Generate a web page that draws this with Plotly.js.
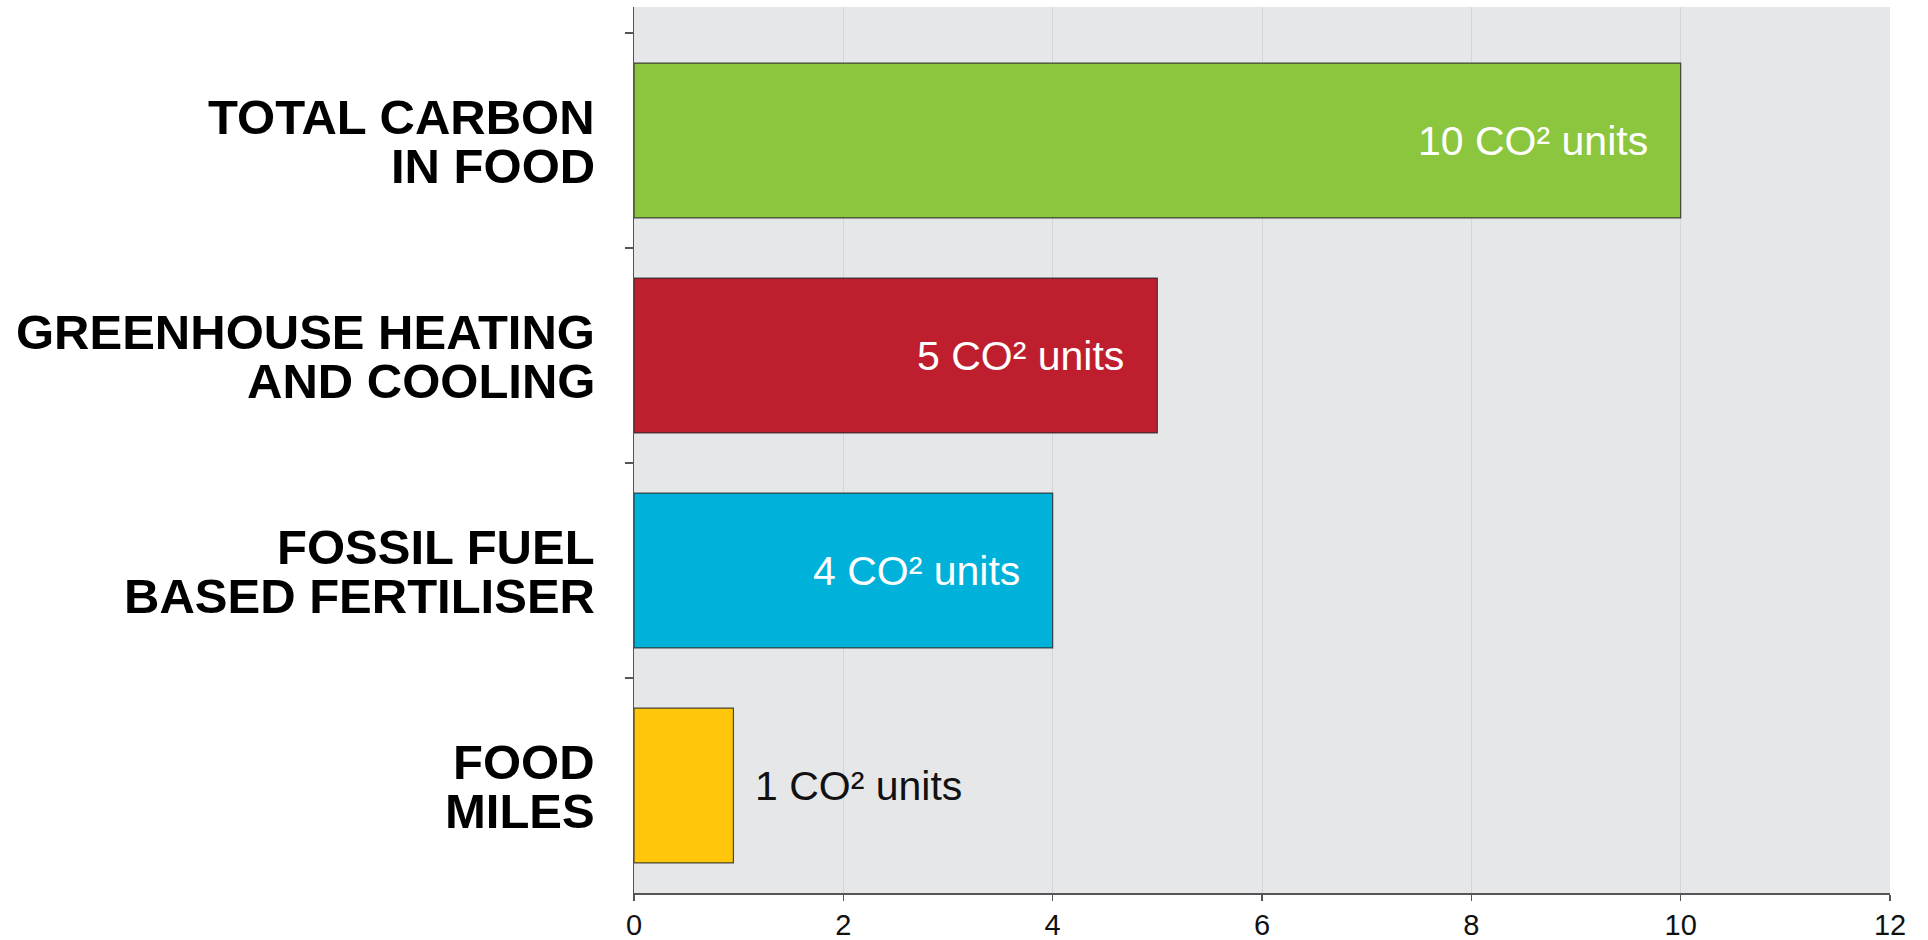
<!DOCTYPE html>
<html>
<head>
<meta charset="utf-8">
<script src="https://cdn.plot.ly/plotly-3.0.1.min.js"></script>
<style>
  html, body { margin: 0; padding: 0; background: #ffffff; }
  #chart { width: 1928px; height: 940px; }
</style>
</head>
<body>
<div id="chart"></div>
<script>
// Data (top to bottom)
const categories = [
  "TOTAL CARBON<br>IN FOOD",
  "GREENHOUSE HEATING<br>AND COOLING",
  "FOSSIL FUEL<br>BASED FERTILISER",
  "FOOD<br>MILES"
];
const values = [10, 5, 4, 0.95];
const valueLabels = ["10 CO² units", "5 CO² units", "4 CO² units", "1 CO² units"];
const barColors = ["#8cc63f", "#be1e2d", "#00b1d9", "#ffc60b"];
const xTicks = [0, 2, 4, 6, 8, 10, 12];

const labelFont = "Liberation Sans, Arial, Helvetica, sans-serif";
const valueFont = "Liberation Sans, Arial, Helvetica, sans-serif";

const trace = {
  type: "bar",
  orientation: "h",
  y: categories,
  x: values,
  width: 0.72,
  marker: {
    color: barColors,
    line: { color: "rgba(45,45,45,0.85)", width: 1.2 }
  },
  hoverinfo: "none"
};

const annotations = [];
// Value labels
values.forEach((v, i) => {
  const inside = v > 2;
  annotations.push({
    x: v, y: categories[i], xref: "x", yref: "y",
    text: valueLabels[i], showarrow: false,
    xanchor: inside ? "right" : "left",
    yanchor: "middle",
    xshift: inside ? -31 : 20,
    font: { family: valueFont, size: 41, color: inside ? "#ffffff" : "#111111" }
  });
});
// Category labels (two lines each, tight leading)
categories.forEach((c, i) => {
  const lines = c.split("<br>");
  lines.forEach((ln, j) => {
    annotations.push({
      x: 0, xref: "paper", y: categories[i], yref: "y",
      text: ln, showarrow: false,
      xanchor: "right", yanchor: "middle",
      xshift: -37,
      yshift: j === 0 ? 24 : -25,
      font: { family: labelFont, size: 49, color: "#000000", weight: 700 }
    });
  });
});

const layout = {
  width: 1928,
  height: 940,
  margin: { l: 634, r: 38, t: 7, b: 47 },
  paper_bgcolor: "#ffffff",
  plot_bgcolor: "#e6e7e9",
  showlegend: false,
  bargap: 0.28,
  xaxis: {
    range: [0, 12],
    tickvals: xTicks,
    ticktext: xTicks.map(String),
    showgrid: true,
    gridcolor: "#d4d5d8",
    gridwidth: 1,
    zeroline: false,
    showline: true,
    linecolor: "#555555",
    linewidth: 1.5,
    ticks: "outside",
    ticklen: 6,
    tickwidth: 1.5,
    tickcolor: "#555555",
    tickfont: { family: valueFont, size: 29, color: "#111111" },
    fixedrange: true
  },
  yaxis: {
    type: "category",
    categoryorder: "array",
    categoryarray: categories,
    range: [3.5, -0.621],
    showticklabels: false,
    showgrid: false,
    zeroline: false,
    showline: true,
    linecolor: "#555555",
    linewidth: 1.5,
    ticks: "outside",
    tickson: "boundaries",
    ticklen: 8,
    tickwidth: 1.5,
    tickcolor: "#555555",
    fixedrange: true
  },
  annotations: annotations
};

Plotly.newPlot("chart", [trace], layout, { displayModeBar: false, staticPlot: true });
</script>
</body>
</html>
